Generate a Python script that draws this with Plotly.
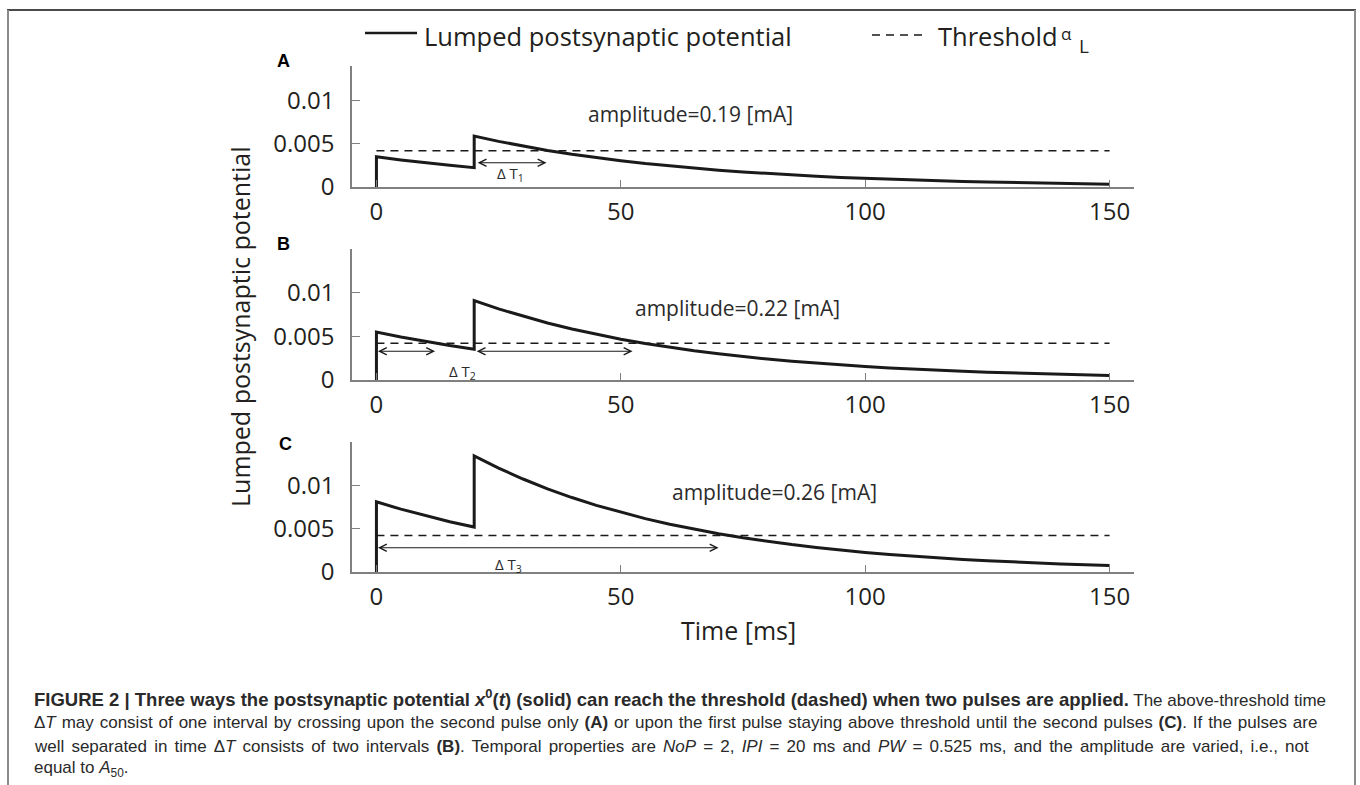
import plotly.graph_objects as go

W, H = 1360, 785

# ---------------- data ----------------
time_ms = [0, 0, 5, 10, 15, 20, 20, 25, 30, 35, 40, 45, 50, 55, 60, 65, 70, 75, 80,
           85, 90, 95, 100, 105, 110, 115, 120, 125, 130, 135, 140, 145, 150]
psp_A = [0, 0.0035, 0.00313, 0.00280, 0.00251, 0.00224, 0.0059, 0.00528, 0.00472, 0.00423,
         0.00378, 0.00339, 0.00303, 0.00271, 0.00243, 0.00217, 0.00194, 0.00174, 0.00156,
         0.00139, 0.00125, 0.00111, 0.00100, 0.00089, 0.00080, 0.00071, 0.00064, 0.00057,
         0.00051, 0.00046, 0.00041, 0.00037, 0.00033]
psp_B = [0, 0.0055, 0.00492, 0.00440, 0.00394, 0.00353, 0.0091, 0.00814, 0.00729, 0.00652,
         0.00583, 0.00522, 0.00467, 0.00418, 0.00374, 0.00335, 0.00300, 0.00268, 0.00240,
         0.00215, 0.00192, 0.00172, 0.00154, 0.00138, 0.00123, 0.00110, 0.00099, 0.00088,
         0.00079, 0.00071, 0.00063, 0.00057, 0.00051]
psp_C = [0, 0.0081, 0.00725, 0.00649, 0.00580, 0.00519, 0.0134, 0.01199, 0.01073, 0.00960,
         0.00859, 0.00769, 0.00688, 0.00616, 0.00551, 0.00493, 0.00441, 0.00395, 0.00353,
         0.00316, 0.00283, 0.00253, 0.00226, 0.00203, 0.00181, 0.00162, 0.00145, 0.00130,
         0.00116, 0.00104, 0.00093, 0.00083, 0.00075]
threshold = 0.0042
threshold_span = [0, 150]

panel_letters = ["A", "B", "C"]
amplitudes = ["0.19", "0.22", "0.26"]
# above-threshold intervals (start, end) drawn as double arrows
dT_intervals = [[(20.4, 34.8)], [(0, 12.0), (20.2, 52.4)], [(0, 70.0)]]
dT_arrow_y = [0.0028, 0.0033, 0.0028]
dT_label_pos = [(27.4, 0.0015), (17.6, 0.00095), (27.0, 0.0008)]
amp_label_pos = [(64.3, 0.0084), (73.9, 0.0083), (81.4, 0.0092)]

x_tickvals = [0, 50, 100, 150]
x_ticktext = ["0", "50", "100", "150"]
y_tickvals = [0, 0.005, 0.01]
y_ticktext = ["0", "0.005", "0.01"]
y_ranges = [[0, 0.014], [0, 0.015], [0, 0.015]]

# ---------------- layout geometry (pixels) ----------------
def px(x):
    return x / W

def py(y):
    return 1 - y / H

x_dom = [px(352), px(1134)]
y_doms = [[py(187), py(66)], [py(380), py(249)], [py(572), py(442)]]

CHART_FONT = "Open Sans"
CAP_FONT = "Liberation Sans, Arial, sans-serif"
INK = "#231f20"
AXC = "#808080"


def note(text, x, y, size, xanchor="center", yanchor="middle", family=CHART_FONT,
         color=INK, xref="paper", yref="paper", **kw):
    if xref == "paper":
        x = px(x)
    if yref == "paper":
        y = py(y)
    return dict(text=text, x=x, y=y, xref=xref, yref=yref, xanchor=xanchor,
                yanchor=yanchor, showarrow=False,
                font=dict(family=family, size=size, color=color), **kw)


fig = go.Figure()
series = [psp_A, psp_B, psp_C]
for i, ys in enumerate(series):
    xa = "x" if i == 0 else f"x{i+1}"
    ya = "y" if i == 0 else f"y{i+1}"
    fig.add_trace(go.Scatter(x=time_ms, y=ys, mode="lines", xaxis=xa, yaxis=ya,
                             line=dict(color="#1a1a1a", width=3), showlegend=False,
                             hoverinfo="skip"))
    fig.add_trace(go.Scatter(x=threshold_span, y=[threshold, threshold], mode="lines",
                             xaxis=xa, yaxis=ya,
                             line=dict(color="#1a1a1a", width=1.5, dash="8px,6px"),
                             showlegend=False, hoverinfo="skip"))

layout_axes = {}
for i in range(3):
    sx = "" if i == 0 else str(i + 1)
    layout_axes[f"xaxis{sx}"] = dict(
        range=[-5, 155], domain=x_dom, anchor=f"y{sx}", showline=True, linecolor=AXC,
        linewidth=1.5, ticks="inside", ticklen=7, tickwidth=1.2, tickcolor=AXC,
        tickvals=x_tickvals, ticktext=x_ticktext,
        tickfont=dict(family=CHART_FONT, size=24, color=INK), showgrid=False,
        zeroline=False, ticklabelstandoff=2, fixedrange=True)
    layout_axes[f"yaxis{sx}"] = dict(
        range=y_ranges[i], domain=y_doms[i], anchor=f"x{sx}", showline=True, linecolor=AXC,
        linewidth=1.5, ticks="inside", ticklen=8, tickwidth=1.2, tickcolor=AXC,
        tickvals=y_tickvals, ticktext=y_ticktext,
        tickfont=dict(family=CHART_FONT, size=24, color=INK), showgrid=False,
        zeroline=False, ticklabelstandoff=11, fixedrange=True)

annotations = []
letter_px = [(283, 61), (283, 244), (285, 444)]
for i in range(3):
    sx = "" if i == 0 else str(i + 1)
    xr, yr = f"x{sx}", f"y{sx}"
    annotations.append(note(f"<b>{panel_letters[i]}</b>", letter_px[i][0], letter_px[i][1],
                            18, family="Liberation Sans, Arial", color="#000"))
    annotations.append(note(f"amplitude={amplitudes[i]} [mA]", amp_label_pos[i][0],
                            amp_label_pos[i][1], 21, color="#2b2b2b", xref=xr, yref=yr))
    for (a, b) in dT_intervals[i]:
        annotations.append(dict(text="", x=b, y=dT_arrow_y[i], ax=a, ay=dT_arrow_y[i],
                                xref=xr, yref=yr, axref=xr, ayref=yr, showarrow=True,
                                arrowhead=5, startarrowhead=5, arrowside="end+start",
                                arrowsize=1.3, startarrowsize=1.3, arrowwidth=1.1,
                                arrowcolor="#1a1a1a", standoff=0, startstandoff=0))
    annotations.append(note(f"Δ T<sub>{i+1}</sub>", dT_label_pos[i][0], dT_label_pos[i][1],
                            15, color="#2b2b2b", xref=xr, yref=yr))

# axis titles
annotations.append(note("Lumped postsynaptic potential", 240, 327, 25, textangle=-90))
annotations.append(note("Time [ms]", 738, 630, 25))

# legend texts
annotations.append(note("Lumped postsynaptic potential", 422, 36, 25.5, xanchor="left"))
annotations.append(note("Threshold", 936, 36, 25.5, xanchor="left"))
annotations.append(note("α", 1066, 34, 17))
annotations.append(note("L", 1084, 46, 19))

# caption
caption_lines = [
    "<span style=\"font-size:18.5px\"><b>FIGURE 2 | Three ways the postsynaptic potential <i>x</i><sup>0</sup>(<i>t</i>) (solid) can reach the threshold (dashed) when two pulses are applied.</b></span> The above-threshold time",
    "<span style=\"word-spacing:1.2px\">Δ<i>T</i> may consist of one interval by crossing upon the second pulse only <b>(A)</b> or upon the first pulse staying above threshold until the second pulses <b>(C)</b>. If the pulses are</span>",
    "<span style=\"word-spacing:2.4px\">well separated in time Δ<i>T</i> consists of two intervals <b>(B)</b>. Temporal properties are <i>NoP</i> = 2, <i>IPI</i> = 20 ms and <i>PW</i> = 0.525 ms, and the amplitude are varied, i.e., not</span>",
    "equal to <i>A</i><sub>50</sub>.",
]
caption_y = [698, 722, 746, 769]
for line, yy in zip(caption_lines, caption_y):
    annotations.append(note(line, 32, yy, 17, xanchor="left", family=CAP_FONT,
                            color="#2a2a2a"))

shapes = [
    # figure frame
    dict(type="line", xref="paper", yref="paper", x0=px(7), x1=px(1356), y0=py(10), y1=py(10),
         line=dict(color="#4a4a4a", width=2)),
    dict(type="line", xref="paper", yref="paper", x0=px(8), x1=px(8), y0=py(10), y1=py(790),
         line=dict(color="#8a8a8a", width=2)),
    dict(type="line", xref="paper", yref="paper", x0=px(1355), x1=px(1355), y0=py(10),
         y1=py(790), line=dict(color="#8a8a8a", width=2)),
    # legend keys
    dict(type="line", xref="paper", yref="paper", x0=px(365), x1=px(417), y0=py(33), y1=py(33),
         line=dict(color="#1a1a1a", width=2.5)),
    dict(type="line", xref="paper", yref="paper", x0=px(872), x1=px(922), y0=py(35), y1=py(35),
         line=dict(color="#1a1a1a", width=1.5, dash="8px,6px")),
]

fig.update_layout(
    width=W, height=H, margin=dict(l=0, r=0, t=0, b=0, autoexpand=False),
    paper_bgcolor="white", plot_bgcolor="white", showlegend=False,
    annotations=annotations, shapes=shapes, **layout_axes)

fig.write_html("out.html", config={"displayModeBar": False})
